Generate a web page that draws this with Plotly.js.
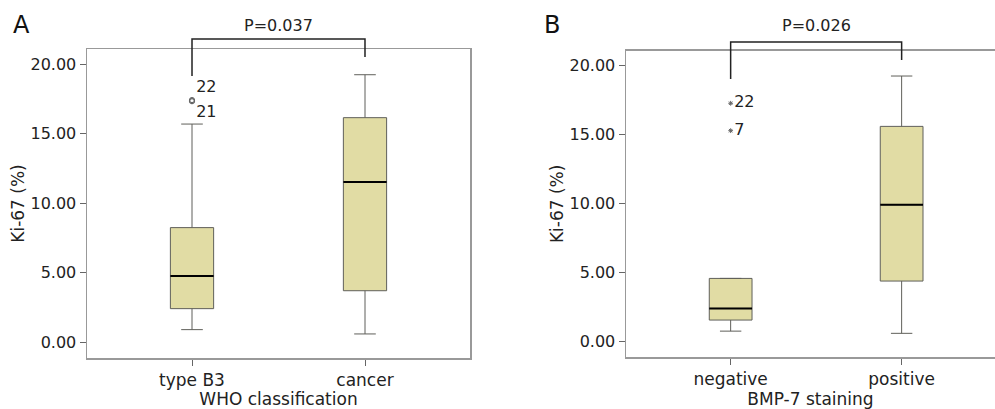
<!DOCTYPE html>
<html>
<head>
<meta charset="utf-8">
<script src="https://cdn.plot.ly/plotly-3.0.1.min.js"></script>
<style>html,body{margin:0;padding:0;background:#fff;}#chart{width:995px;height:409px;}</style>
</head>
<body>
<div id="chart"></div>
<script>
// ---- data ----
const catsA = ["type B3", "cancer"];
const lowA = [0.91, 0.60];
const q1A = [2.42, 3.71];
const medA = [4.77, 11.53];
const q3A = [8.25, 16.16];
const highA = [15.7, 19.25];
const outXA = [0, 0];
const outYA = [17.42, 17.35];
const outLabA = ["22", "21"];
const pA = "P=0.037";

const catsB = ["negative", "positive"];
const lowB = [0.77, 0.61];
const q1B = [1.57, 4.39];
const medB = [2.41, 9.90];
const q3B = [4.58, 15.57];
const highB = [4.58, 19.21];
const outXB = [0, 0];
const outYB = [17.24, 15.26];
const outLabB = ["22", "7"];
const pB = "P=0.026";

// ---- styling ----
const FONT = "DejaVu Sans, Liberation Sans, Arial, sans-serif";
const TXT = "#222";
const FILL = "#e1dca4";
const BOXW = 0.25;
const W = 995, H = 409;

const domA = {x: [87 / W, 470 / W], y: [1 - 358 / H, 1 - 49 / H], xr: [-0.607, 1.607], yr: [-1.13, 21.1]};
const domB = {x: [626 / W, 1], y: [1 - 357 / H, 1 - 50.7 / H], xr: [-0.612, 1.546], yr: [-1.1, 21.04]};

function boxTrace(xa, ya, q1, med, q3, lo, hi) {
  return {
    type: "box", xaxis: xa, yaxis: ya,
    x: q1.map((_, i) => i), q1: q1, median: med, q3: q3,
    lowerfence: lo, upperfence: hi,
    width: BOXW, whiskerwidth: 0.5,
    fillcolor: FILL, line: {color: "#5f5f5a", width: 1},
    boxpoints: false, hoverinfo: "skip", showlegend: false
  };
}
function medianTrace(xa, ya, med) {
  const xs = [], ys = [];
  med.forEach((m, i) => { xs.push(i - BOXW / 2, i + BOXW / 2, null); ys.push(m, m, null); });
  return {type: "scatter", mode: "lines", xaxis: xa, yaxis: ya, x: xs, y: ys,
    line: {color: "#000", width: 2}, hoverinfo: "skip", showlegend: false};
}

const traces = [
  boxTrace("x", "y", q1A, medA, q3A, lowA, highA),
  medianTrace("x", "y", medA),
  {type: "scatter", mode: "markers+text", xaxis: "x", yaxis: "y",
    x: outXA, y: outYA, text: outLabA, textposition: ["top right", "bottom right"],
    textfont: {family: FONT, size: 16, color: TXT},
    marker: {symbol: "circle-open", size: 5, color: "#666", line: {width: 1.2}},
    hoverinfo: "skip", showlegend: false, cliponaxis: false},
  boxTrace("x2", "y2", q1B, medB, q3B, lowB, highB),
  medianTrace("x2", "y2", medB),
  {type: "scatter", mode: "markers+text", xaxis: "x2", yaxis: "y2",
    x: outXB, y: outYB, text: outLabB, textposition: "middle right",
    textfont: {family: FONT, size: 16, color: TXT},
    marker: {symbol: "asterisk-open", size: 4, color: "#666", line: {width: 1}},
    hoverinfo: "skip", showlegend: false, cliponaxis: false}
];

function xAxis(d, cats, title, anchor) {
  return {
    domain: d.x, range: d.xr, anchor: anchor, tickmode: "array",
    tickvals: cats.map((_, i) => i), ticktext: cats,
    ticks: "outside", ticklen: 6, tickcolor: "#666", tickwidth: 1,
    showline: true, linecolor: "#999", linewidth: 1.5, mirror: true,
    showgrid: false, zeroline: false,
    tickfont: {family: FONT, size: 17, color: TXT},
    title: {text: title, font: {family: FONT, size: 17, color: TXT}, standoff: 4},
    fixedrange: true
  };
}
function yAxis(d, anchor) {
  return {
    domain: d.y, range: d.yr, anchor: anchor,
    tickmode: "linear", tick0: 0, dtick: 5, tickformat: ".2f",
    ticks: "outside", ticklen: 6, tickcolor: "#666", tickwidth: 1,
    showline: true, linecolor: "#999", linewidth: 1.5, mirror: true,
    showgrid: false, zeroline: false,
    tickfont: {family: FONT, size: 16, color: TXT},
    title: {text: "Ki-67 (%)", font: {family: FONT, size: 17, color: TXT}},
    fixedrange: true
  };
}

function catToPaper(d, idx) {
  return d.x[0] + (idx - d.xr[0]) / (d.xr[1] - d.xr[0]) * (d.x[1] - d.x[0]);
}
function bracket(d, yTop, yL, yR) {
  const xl = catToPaper(d, 0), xr = catToPaper(d, 1);
  const yt = 1 - yTop / H, yl = 1 - yL / H, yrr = 1 - yR / H;
  return {type: "path", xref: "paper", yref: "paper",
    path: `M${xl},${yl} L${xl},${yt} L${xr},${yt} L${xr},${yrr}`,
    line: {color: "#222", width: 1.5}};
}

const layout = {
  width: W, height: H,
  margin: {l: 0, r: 0, t: 0, b: 0},
  paper_bgcolor: "#fff", plot_bgcolor: "#fff",
  showlegend: false,
  xaxis: xAxis(domA, catsA, "WHO classification", "y"),
  yaxis: yAxis(domA, "x"),
  xaxis2: xAxis(domB, catsB, "BMP-7 staining", "y2"),
  yaxis2: yAxis(domB, "x2"),
  shapes: [bracket(domA, 39, 76, 57), bracket(domB, 42, 79, 60)],
  annotations: [
    {text: "A", xref: "paper", yref: "paper", x: 11 / W, y: 1 - 25 / H, xanchor: "left", yanchor: "middle",
      showarrow: false, font: {family: FONT, size: 24, color: "#111"}},
    {text: "B", xref: "paper", yref: "paper", x: 542 / W, y: 1 - 25 / H, xanchor: "left", yanchor: "middle",
      showarrow: false, font: {family: FONT, size: 24, color: "#111"}},
    {text: pA, xref: "paper", yref: "paper", x: (catToPaper(domA, 0) + catToPaper(domA, 1)) / 2, y: 1 - 26 / H,
      xanchor: "center", yanchor: "middle", showarrow: false, font: {family: FONT, size: 16, color: TXT}},
    {text: pB, xref: "paper", yref: "paper", x: (catToPaper(domB, 0) + catToPaper(domB, 1)) / 2, y: 1 - 26 / H,
      xanchor: "center", yanchor: "middle", showarrow: false, font: {family: FONT, size: 16, color: TXT}}
  ]
};

Plotly.newPlot("chart", traces, layout, {displayModeBar: false, staticPlot: true});
</script>
</body>
</html>
